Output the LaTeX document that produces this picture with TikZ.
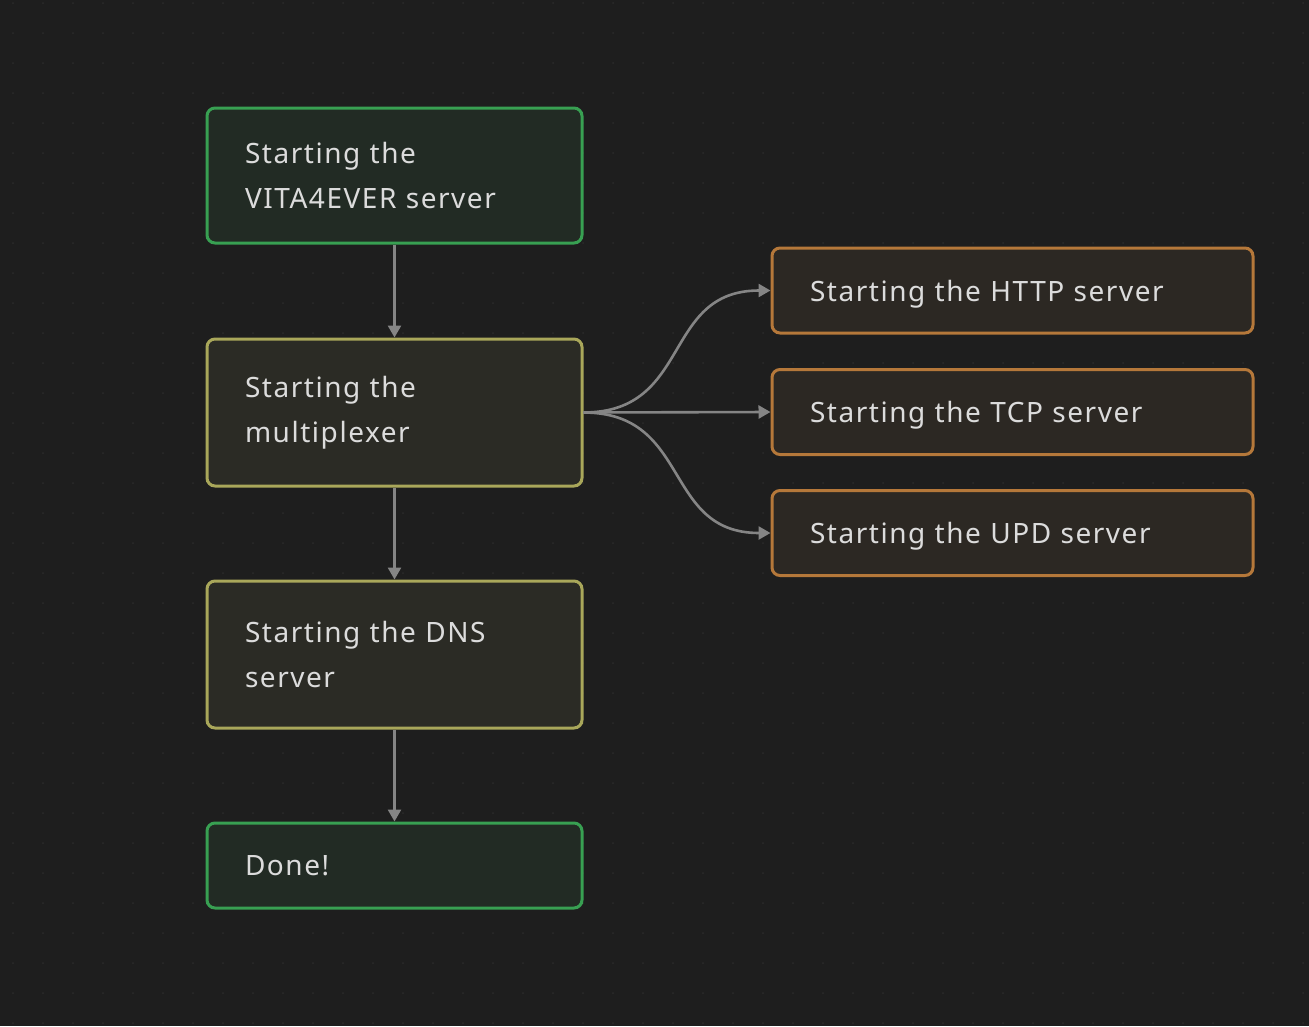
\documentclass[tikz,border=0pt]{standalone}
\usepackage{fontspec}
\setmainfont[LetterSpace=5.5]{Noto Sans}
\usetikzlibrary{arrows.meta}
\usetikzlibrary{positioning}
\definecolor{bgcol}{HTML}{1E1E1E}
\definecolor{dotcol}{HTML}{2B2B2B}
\definecolor{greenline}{HTML}{38A052}
\definecolor{greenfill}{HTML}{222B24}
\definecolor{yellowline}{HTML}{A9A75A}
\definecolor{yellowfill}{HTML}{2B2B25}
\definecolor{orangeline}{HTML}{B5783A}
\definecolor{orangefill}{HTML}{2C2823}
\definecolor{arrowcol}{HTML}{858585}
\definecolor{textcol}{HTML}{DCDCDC}

\begin{document}
\begin{tikzpicture}[x=1pt,y=-1pt,->,>={Triangle[length=12pt,width=13pt]},
    step box/.style={rectangle,rounded corners=8pt,line width=3pt,text=textcol,align=left,
      inner xsep=38pt,inner ysep=0pt,font=\fontsize{28}{45}\selectfont},
    main node/.style={step box,draw=greenline,fill=greenfill,text width=299pt,minimum width=375pt},
    mid node/.style={step box,draw=yellowline,fill=yellowfill,text width=299pt,minimum width=375pt},
    side node/.style={step box,draw=orangeline,fill=orangefill,text width=405pt,minimum width=481pt,
      minimum height=85pt,text depth=0pt},
    link/.style={line width=2.6pt,color=arrowcol}]
    \fill[bgcol] (0,0) rectangle (1309,1026);
    \foreach \x in {13,43,...,1309}
      \foreach \y in {3,33,...,1026}
        \fill[dotcol] (\x,\y) circle (1pt);
    \begin{scope}
      \node[main node,minimum height=135pt] (start) at (394.5,175.5) {Starting the\\VITA4EVER server};
      \node[mid node,minimum height=147pt] (mux) at (394.5,412.5) {Starting the\\multiplexer};
      \node[mid node,minimum height=147pt] (dns) at (394.5,654.5) {Starting the DNS\\server};
      \node[main node,minimum height=85pt] (done) at (394.5,865.5) {Done!};

      \node[side node] (http) at (1012.5,290.5) {Starting the HTTP server};
      \node[side node] (tcp) at (1012.5,412) {Starting the TCP server};
      \node[side node] (udp) at (1012.5,533) {Starting the UPD server};

      \path[link] (start) edge (mux);
      \path[link] (mux) edge (dns);
      \path[link] (dns) edge (done);
      \path[link] (mux.east) edge[out=0,in=180,looseness=1.25] (http.west);
      \path[link] (mux.east) edge (tcp.west);
      \path[link] (mux.east) edge[out=0,in=180,looseness=1.25] (udp.west);
    \end{scope}
\end{tikzpicture}
\end{document}
